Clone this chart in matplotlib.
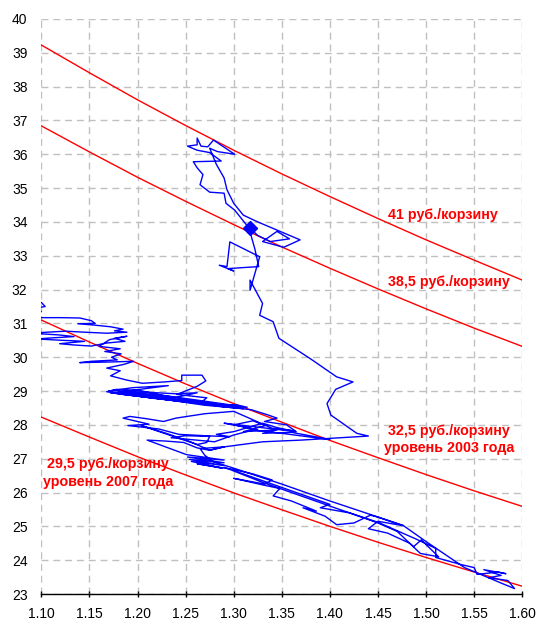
import matplotlib
matplotlib.use("Agg")
import matplotlib.pyplot as plt

plt.rcParams['font.family'] = ['Liberation Sans', 'DejaVu Sans']

# EUR/USD grid where the basket curves were read
curve_x = [1.10, 1.15, 1.20, 1.25, 1.30, 1.35, 1.40, 1.45, 1.50, 1.55, 1.60]
basket_41 = [39.23, 38.41, 37.61, 36.85, 36.12, 35.42, 34.75, 34.10, 33.47, 32.87, 32.28]
basket_385 = [36.84, 36.07, 35.32, 34.61, 33.92, 33.26, 32.63, 32.02, 31.43, 30.86, 30.32]
basket_325 = [31.10, 30.45, 29.82, 29.21, 28.63, 28.08, 27.54, 27.03, 26.53, 26.05, 25.59]
basket_295 = [28.23, 27.64, 27.06, 26.52, 25.99, 25.49, 25.00, 24.53, 24.08, 23.65, 23.23]

# trajectory (EUR/USD, USD/RUB)
path = [
    # 2003
    (1.085, 31.58), (1.100, 31.62), (1.104, 31.50), (1.096, 31.46), (1.100, 31.35), (1.093, 31.22),
    (1.100, 31.17), (1.120, 31.17), (1.140, 31.16), (1.152, 31.08), (1.156, 31.00), (1.138, 30.99),
    (1.155, 30.95), (1.172, 30.90), (1.185, 30.83), (1.176, 30.78), (1.189, 30.74), (1.168, 30.71),
    (1.145, 30.74), (1.125, 30.77), (1.100, 30.73), (1.095, 30.70), (1.118, 30.66), (1.134, 30.61),
    (1.110, 30.57), (1.095, 30.54), (1.122, 30.50), (1.145, 30.47), (1.119, 30.40), (1.135, 30.36),
    (1.152, 30.33), (1.168, 30.42), (1.187, 30.47), (1.176, 30.56), (1.189, 30.62), (1.171, 30.52),
    (1.160, 30.32), (1.182, 30.25), (1.166, 30.17), (1.183, 30.10), (1.173, 30.00), (1.179, 29.92),
    (1.152, 29.88), (1.140, 29.84), (1.172, 29.86), (1.196, 29.88), (1.186, 29.79), (1.168, 29.68),
    (1.182, 29.60),
    # 2004
    (1.172, 29.45), (1.188, 29.33), (1.205, 29.23), (1.228, 29.27), (1.246, 29.31), (1.246, 29.47),
    (1.267, 29.47), (1.271, 29.30), (1.262, 29.14), (1.241, 28.90), (1.272, 28.80), (1.264, 28.62),
    (1.289, 28.56), (1.302, 28.60), (1.314, 28.52), (1.288, 28.57), (1.250, 28.70), (1.215, 28.80),
    (1.185, 28.90), (1.168, 28.98), (1.178, 29.05), (1.202, 29.02), (1.225, 28.88), (1.252, 28.74),
    (1.278, 28.63), (1.296, 28.52), (1.262, 28.64), (1.218, 28.78), (1.183, 28.92), (1.170, 29.00),
    (1.195, 29.10), (1.232, 29.16), (1.205, 29.06), (1.180, 28.96), (1.210, 28.82), (1.245, 28.70),
    (1.175, 29.02), (1.230, 28.86), (1.290, 28.62), (1.305, 28.55), (1.250, 28.68), (1.190, 28.88),
    (1.172, 28.95), (1.220, 28.83), (1.280, 28.60), (1.310, 28.48), (1.270, 28.58), (1.205, 28.85),
    (1.185, 29.00), (1.240, 28.92), (1.262, 28.95), (1.235, 28.78), (1.200, 28.93),
    (1.285, 28.55), (1.318, 28.45), (1.335, 28.30), (1.345, 28.20), (1.332, 28.10), (1.355, 28.00),
    (1.364, 27.82), (1.340, 27.90), (1.300, 28.40),
    # 2005
    (1.270, 28.33), (1.240, 28.20), (1.227, 28.10), (1.210, 28.18), (1.192, 28.25), (1.185, 28.20),
    (1.212, 28.02), (1.190, 27.98), (1.222, 27.88), (1.243, 27.72), (1.270, 27.68), (1.296, 27.65),
    (1.282, 27.72), (1.300, 27.80), (1.318, 27.95), (1.330, 28.05), (1.345, 27.92), (1.365, 27.80),
    (1.290, 28.05), (1.310, 27.95), (1.325, 27.85), (1.300, 28.00), (1.320, 28.12), (1.333, 27.98),
    (1.310, 27.80), (1.345, 27.85), (1.330, 27.75), (1.360, 27.78),
    (1.400, 27.57), (1.385, 27.62), (1.350, 27.75), (1.320, 27.85), (1.300, 27.70), (1.280, 27.50),
    (1.235, 27.62), (1.250, 27.68), (1.275, 27.66), (1.272, 27.48), (1.262, 27.42),
    (1.204, 27.98), (1.230, 27.75), (1.255, 27.50), (1.275, 27.25),
    (1.290, 27.35), (1.275, 27.25), (1.262, 27.32), (1.248, 27.48), (1.230, 27.52), (1.210, 27.55),
    # 2006
    (1.251, 27.12), (1.290, 26.96), (1.252, 27.05), (1.290, 26.88), (1.254, 26.98), (1.289, 26.80),
    (1.256, 26.92), (1.288, 26.72), (1.262, 26.85), (1.300, 26.68), (1.320, 26.55), (1.340, 26.37),
    (1.332, 26.25), (1.300, 26.42), (1.331, 26.22), (1.348, 26.12),
    # 2007
    (1.341, 25.90), (1.360, 25.75), (1.386, 25.45), (1.372, 25.55), (1.395, 25.30), (1.407, 25.05),
    (1.425, 25.10), (1.442, 25.33), (1.449, 25.28), (1.476, 25.02), (1.450, 25.15), (1.440, 24.93),
    (1.460, 24.80), (1.483, 24.50), (1.487, 24.40), (1.495, 24.60), (1.513, 24.10), (1.494, 24.20),
    (1.470, 24.85), (1.450, 25.10), (1.420, 25.40), (1.390, 25.55), (1.400, 25.65), (1.380, 25.85),
    (1.360, 26.05), (1.330, 26.35), (1.290, 26.75), (1.330, 26.30), (1.370, 25.90), (1.410, 25.50),
    (1.450, 25.12), (1.490, 24.62), (1.510, 24.35),
    (1.510, 24.08),
    # 2008
    (1.535, 23.88), (1.550, 23.78), (1.553, 23.58), (1.575, 23.65), (1.583, 23.60), (1.560, 23.72),
    (1.578, 23.55), (1.565, 23.48), (1.585, 23.40), (1.592, 23.16), (1.580, 23.30), (1.540, 23.78),
    (1.500, 24.55), (1.476, 25.03), (1.400, 25.75), (1.350, 26.25), (1.300, 26.72), (1.279, 26.91),
    (1.270, 27.10), (1.265, 27.30), (1.290, 27.35), (1.330, 27.50), (1.370, 27.55), (1.440, 27.67),
    (1.428, 27.75), (1.401, 28.29), (1.397, 28.63), (1.406, 29.05), (1.424, 29.27), (1.407, 29.42),
    (1.380, 29.95), (1.347, 30.56), (1.341, 31.05), (1.327, 31.24), (1.330, 31.59), (1.317, 32.28),
    # 2009
    (1.317, 31.98), (1.327, 32.97), (1.296, 33.41), (1.293, 32.68), (1.285, 32.72), (1.300, 32.55),
    (1.294, 32.62), (1.326, 32.68), (1.322, 33.20), (1.318, 33.60), (1.315, 33.85), (1.301, 34.35),
    (1.292, 34.55), (1.290, 34.85), (1.275, 34.88), (1.265, 35.10), (1.268, 35.40), (1.262, 35.60),
    (1.258, 35.78), (1.287, 35.80), (1.275, 36.05), (1.262, 36.12), (1.252, 36.24), (1.262, 36.28),
    (1.262, 36.48), (1.266, 36.24), (1.273, 36.22), (1.279, 36.42), (1.301, 36.00), (1.283, 36.08),
    (1.275, 36.18), (1.282, 35.70), (1.290, 35.30), (1.293, 34.95), (1.300, 34.55), (1.310, 34.20),
    (1.325, 34.00), (1.369, 33.47), (1.352, 33.25), (1.330, 33.42), (1.345, 33.72), (1.358, 33.50),
    (1.338, 33.42), (1.325, 33.60), (1.317, 33.81),
]
path_x = [p[0] for p in path]
path_y = [p[1] for p in path]

x_ticks = [1.10, 1.15, 1.20, 1.25, 1.30, 1.35, 1.40, 1.45, 1.50, 1.55, 1.60]
y_ticks = list(range(23, 41))

fig = plt.figure(figsize=(5.38, 6.22), dpi=100)
ax = fig.add_axes([0.0768, 0.045, 0.894, 0.9245])

red = '#ff0000'
for c in (basket_41, basket_385, basket_325, basket_295):
    ax.plot(curve_x, c, color=red, lw=1.0, zorder=3)

ax.plot(path_x, path_y, color='#0000ff', lw=1.0, zorder=4)
ax.plot(path_x[-1], path_y[-1], marker='D', ms=7, color='#0000ff', zorder=5)

ax.set_xlim(1.10, 1.60)
ax.set_ylim(23, 40)
ax.set_xticks(x_ticks)
ax.set_xticklabels([f"{v:.2f}" for v in x_ticks])
ax.set_yticks(y_ticks)
ax.set_yticklabels([str(v) for v in y_ticks])

ax.grid(True, color='#c0c0c0', lw=1.0, linestyle=(0, (5, 3.5)))
ax.set_axisbelow(True)
for s in ('top', 'right', 'left'):
    ax.spines[s].set_visible(False)
ax.spines['bottom'].set_color('black')
ax.spines['bottom'].set_linewidth(1.0)
ax.tick_params(axis='x', direction='inout', length=5, width=1, pad=7, labelsize=10)
ax.tick_params(axis='y', length=0, pad=10, labelsize=10)

tkw = dict(color=red, fontsize=10.3, fontweight='bold', zorder=6)
ax.text(1.460, 34.2, '41 руб./корзину', ha='left', va='center', **tkw)
ax.text(1.460, 32.23, '38,5 руб./корзину', ha='left', va='center', **tkw)
ax.text(1.524, 27.57, '32,5 руб./корзину\nуровень 2003 года', ha='center', va='center',
        linespacing=1.3, **tkw)
ax.text(1.169, 26.58, '29,5 руб./корзину\nуровень 2007 года', ha='center', va='center',
        linespacing=1.3, **tkw)

fig.savefig('out.png', dpi=100)
